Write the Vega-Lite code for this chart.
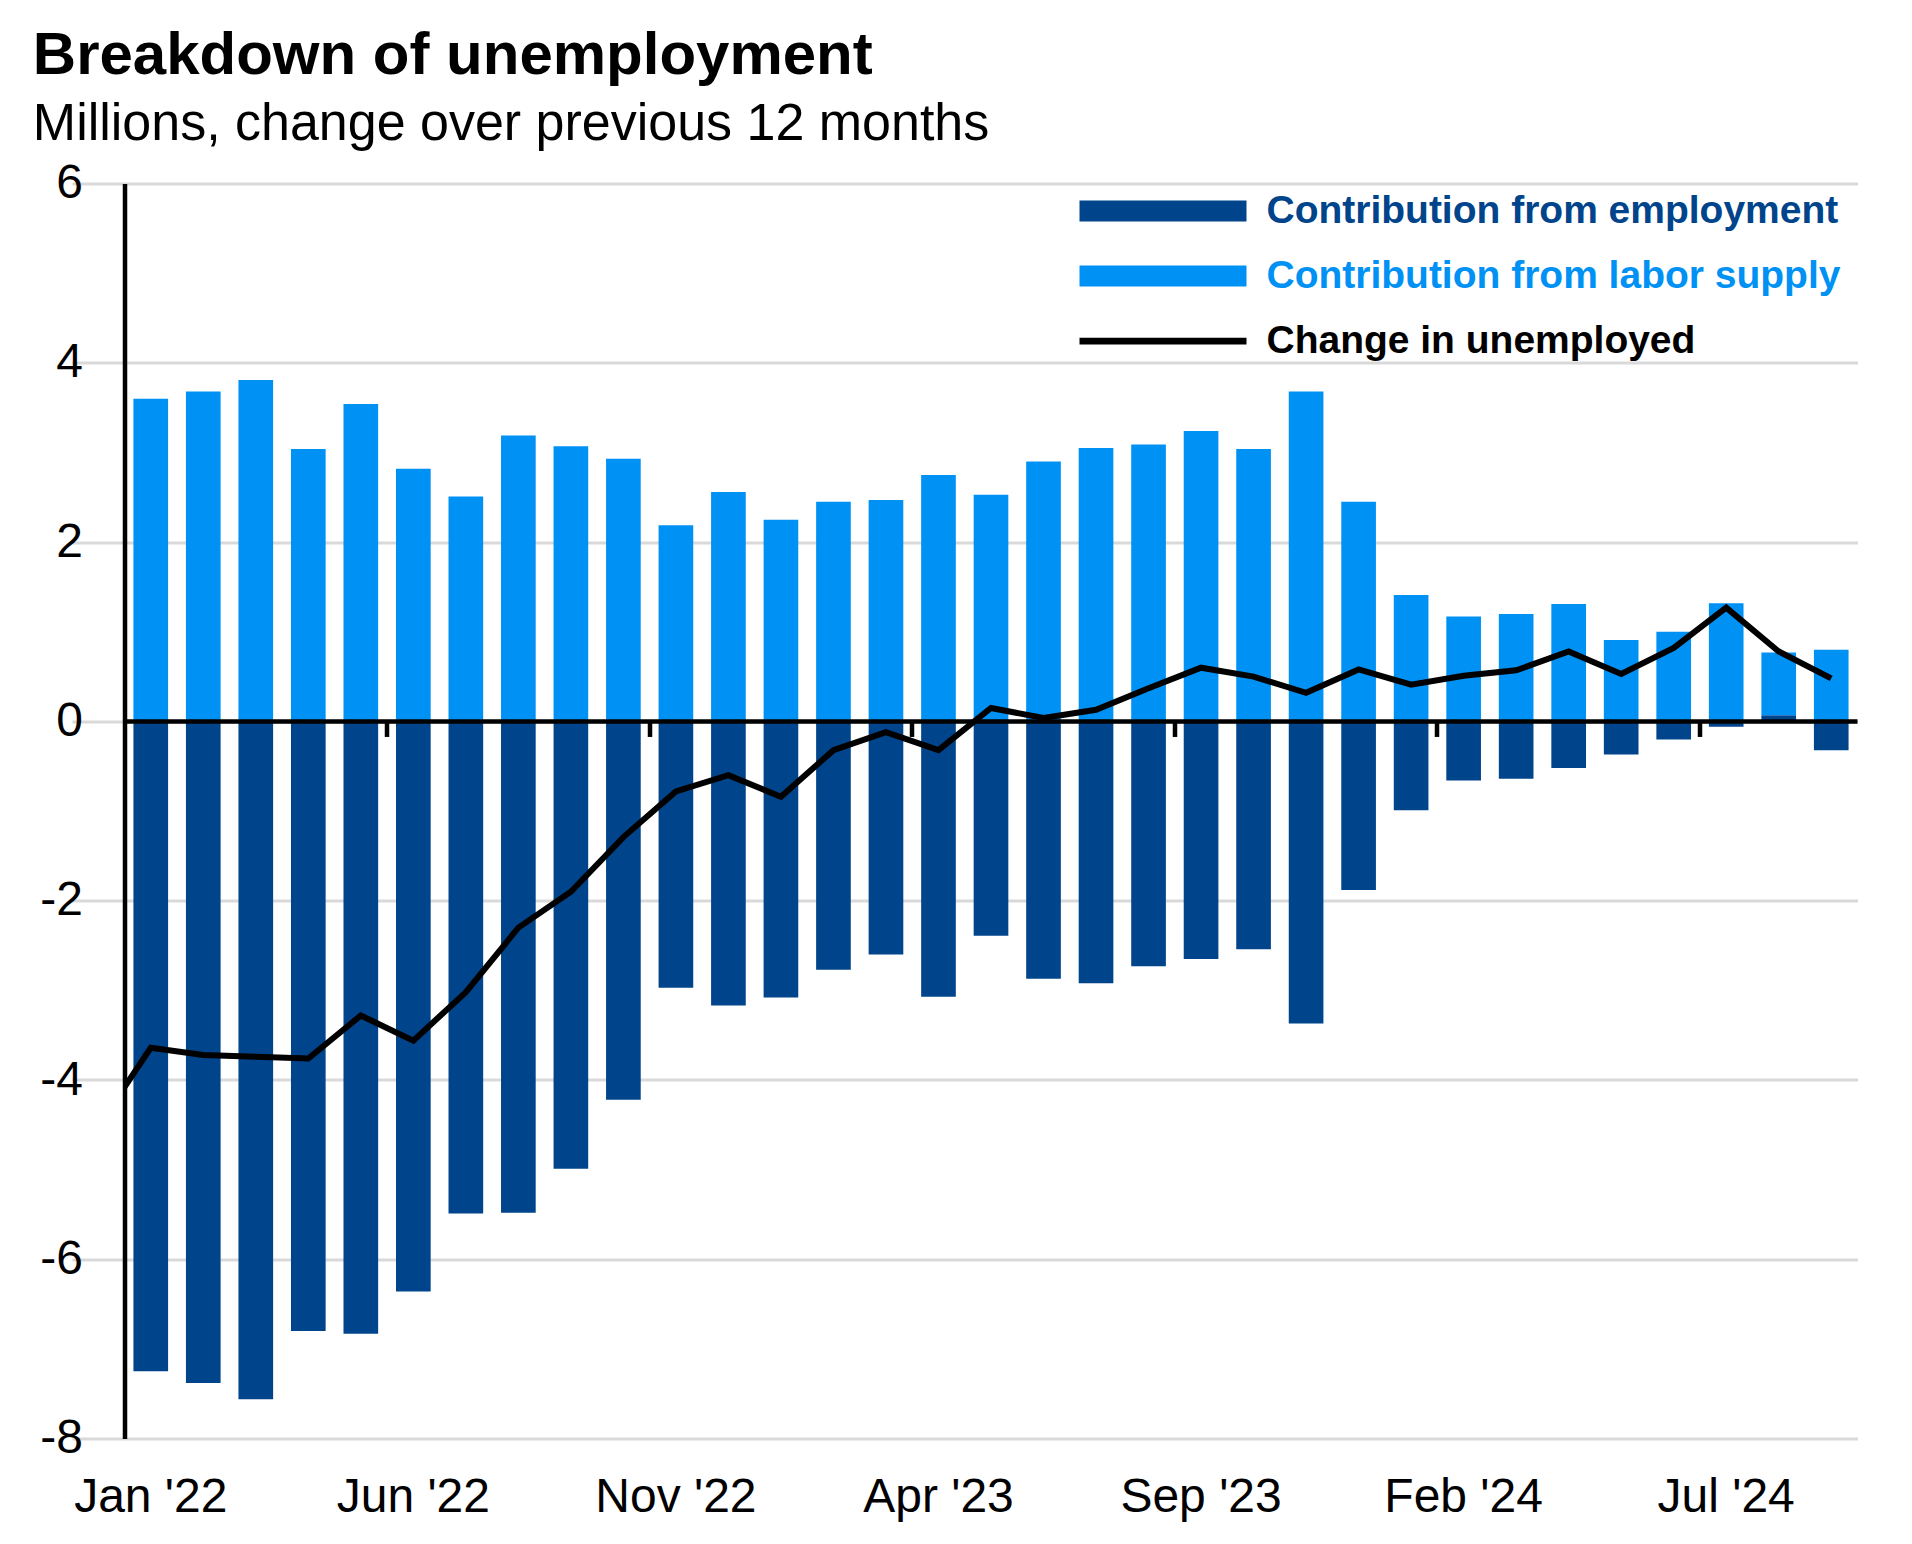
{
  "$schema": "https://vega.github.io/schema/vega-lite/v6.json",
  "width": 1733,
  "height": 1255,
  "padding": {"left": 32.5, "top": 25.6, "right": 20, "bottom": 10},
  "background": "white",
  "config": {"view": {"stroke": null}, "font": "Liberation Sans"},
  "title": {
    "text": "Breakdown of unemployment",
    "subtitle": "Millions, change over previous 12 months",
    "anchor": "start",
    "frame": "bounds",
    "dx": -7,
    "font": "Liberation Sans",
    "fontSize": 60,
    "fontWeight": "bold",
    "color": "#000000",
    "subtitleFont": "Liberation Sans",
    "subtitleFontSize": 52,
    "subtitleColor": "#000000",
    "subtitlePadding": 12,
    "offset": 8.6
  },
  "data": {
    "values": [
      {"month": "Jan '22", "series": "Contribution from employment", "value": -7.25},
      {"month": "Feb '22", "series": "Contribution from employment", "value": -7.38},
      {"month": "Mar '22", "series": "Contribution from employment", "value": -7.56},
      {"month": "Apr '22", "series": "Contribution from employment", "value": -6.80},
      {"month": "May '22", "series": "Contribution from employment", "value": -6.83},
      {"month": "Jun '22", "series": "Contribution from employment", "value": -6.36},
      {"month": "Jul '22", "series": "Contribution from employment", "value": -5.49},
      {"month": "Aug '22", "series": "Contribution from employment", "value": -5.48},
      {"month": "Sep '22", "series": "Contribution from employment", "value": -4.99},
      {"month": "Oct '22", "series": "Contribution from employment", "value": -4.22},
      {"month": "Nov '22", "series": "Contribution from employment", "value": -2.97},
      {"month": "Dec '22", "series": "Contribution from employment", "value": -3.17},
      {"month": "Jan '23", "series": "Contribution from employment", "value": -3.08},
      {"month": "Feb '23", "series": "Contribution from employment", "value": -2.77},
      {"month": "Mar '23", "series": "Contribution from employment", "value": -2.60},
      {"month": "Apr '23", "series": "Contribution from employment", "value": -3.07},
      {"month": "May '23", "series": "Contribution from employment", "value": -2.39},
      {"month": "Jun '23", "series": "Contribution from employment", "value": -2.87},
      {"month": "Jul '23", "series": "Contribution from employment", "value": -2.92},
      {"month": "Aug '23", "series": "Contribution from employment", "value": -2.73},
      {"month": "Sep '23", "series": "Contribution from employment", "value": -2.65},
      {"month": "Oct '23", "series": "Contribution from employment", "value": -2.54},
      {"month": "Nov '23", "series": "Contribution from employment", "value": -3.37},
      {"month": "Dec '23", "series": "Contribution from employment", "value": -1.88},
      {"month": "Jan '24", "series": "Contribution from employment", "value": -0.99},
      {"month": "Feb '24", "series": "Contribution from employment", "value": -0.66},
      {"month": "Mar '24", "series": "Contribution from employment", "value": -0.64},
      {"month": "Apr '24", "series": "Contribution from employment", "value": -0.52},
      {"month": "May '24", "series": "Contribution from employment", "value": -0.37},
      {"month": "Jun '24", "series": "Contribution from employment", "value": -0.20},
      {"month": "Jul '24", "series": "Contribution from employment", "value": -0.06},
      {"month": "Aug '24", "series": "Contribution from employment", "value": 0.07},
      {"month": "Sep '24", "series": "Contribution from employment", "value": -0.32},
      {"month": "Jan '22", "series": "Contribution from labor supply", "value": 3.60},
      {"month": "Feb '22", "series": "Contribution from labor supply", "value": 3.68},
      {"month": "Mar '22", "series": "Contribution from labor supply", "value": 3.81},
      {"month": "Apr '22", "series": "Contribution from labor supply", "value": 3.04},
      {"month": "May '22", "series": "Contribution from labor supply", "value": 3.54},
      {"month": "Jun '22", "series": "Contribution from labor supply", "value": 2.82},
      {"month": "Jul '22", "series": "Contribution from labor supply", "value": 2.51},
      {"month": "Aug '22", "series": "Contribution from labor supply", "value": 3.19},
      {"month": "Sep '22", "series": "Contribution from labor supply", "value": 3.07},
      {"month": "Oct '22", "series": "Contribution from labor supply", "value": 2.93},
      {"month": "Nov '22", "series": "Contribution from labor supply", "value": 2.19},
      {"month": "Dec '22", "series": "Contribution from labor supply", "value": 2.56},
      {"month": "Jan '23", "series": "Contribution from labor supply", "value": 2.25},
      {"month": "Feb '23", "series": "Contribution from labor supply", "value": 2.45},
      {"month": "Mar '23", "series": "Contribution from labor supply", "value": 2.47},
      {"month": "Apr '23", "series": "Contribution from labor supply", "value": 2.75},
      {"month": "May '23", "series": "Contribution from labor supply", "value": 2.53},
      {"month": "Jun '23", "series": "Contribution from labor supply", "value": 2.90},
      {"month": "Jul '23", "series": "Contribution from labor supply", "value": 3.05},
      {"month": "Aug '23", "series": "Contribution from labor supply", "value": 3.09},
      {"month": "Sep '23", "series": "Contribution from labor supply", "value": 3.24},
      {"month": "Oct '23", "series": "Contribution from labor supply", "value": 3.04},
      {"month": "Nov '23", "series": "Contribution from labor supply", "value": 3.68},
      {"month": "Dec '23", "series": "Contribution from labor supply", "value": 2.45},
      {"month": "Jan '24", "series": "Contribution from labor supply", "value": 1.41},
      {"month": "Feb '24", "series": "Contribution from labor supply", "value": 1.17},
      {"month": "Mar '24", "series": "Contribution from labor supply", "value": 1.20},
      {"month": "Apr '24", "series": "Contribution from labor supply", "value": 1.31},
      {"month": "May '24", "series": "Contribution from labor supply", "value": 0.91},
      {"month": "Jun '24", "series": "Contribution from labor supply", "value": 1.00},
      {"month": "Jul '24", "series": "Contribution from labor supply", "value": 1.32},
      {"month": "Aug '24", "series": "Contribution from labor supply", "value": 0.70},
      {"month": "Sep '24", "series": "Contribution from labor supply", "value": 0.80},
      {"month": "Dec '21", "series": "Change in unemployed", "value": -4.52},
      {"month": "Jan '22", "series": "Change in unemployed", "value": -3.64},
      {"month": "Feb '22", "series": "Change in unemployed", "value": -3.72},
      {"month": "Mar '22", "series": "Change in unemployed", "value": -3.74},
      {"month": "Apr '22", "series": "Change in unemployed", "value": -3.76},
      {"month": "May '22", "series": "Change in unemployed", "value": -3.28},
      {"month": "Jun '22", "series": "Change in unemployed", "value": -3.56},
      {"month": "Jul '22", "series": "Change in unemployed", "value": -3.02},
      {"month": "Aug '22", "series": "Change in unemployed", "value": -2.30},
      {"month": "Sep '22", "series": "Change in unemployed", "value": -1.90},
      {"month": "Oct '22", "series": "Change in unemployed", "value": -1.29},
      {"month": "Nov '22", "series": "Change in unemployed", "value": -0.78},
      {"month": "Dec '22", "series": "Change in unemployed", "value": -0.60},
      {"month": "Jan '23", "series": "Change in unemployed", "value": -0.84},
      {"month": "Feb '23", "series": "Change in unemployed", "value": -0.32},
      {"month": "Mar '23", "series": "Change in unemployed", "value": -0.12},
      {"month": "Apr '23", "series": "Change in unemployed", "value": -0.32},
      {"month": "May '23", "series": "Change in unemployed", "value": 0.15},
      {"month": "Jun '23", "series": "Change in unemployed", "value": 0.04},
      {"month": "Jul '23", "series": "Change in unemployed", "value": 0.13},
      {"month": "Aug '23", "series": "Change in unemployed", "value": 0.37},
      {"month": "Sep '23", "series": "Change in unemployed", "value": 0.60},
      {"month": "Oct '23", "series": "Change in unemployed", "value": 0.50},
      {"month": "Nov '23", "series": "Change in unemployed", "value": 0.32},
      {"month": "Dec '23", "series": "Change in unemployed", "value": 0.58},
      {"month": "Jan '24", "series": "Change in unemployed", "value": 0.41},
      {"month": "Feb '24", "series": "Change in unemployed", "value": 0.51},
      {"month": "Mar '24", "series": "Change in unemployed", "value": 0.57},
      {"month": "Apr '24", "series": "Change in unemployed", "value": 0.78},
      {"month": "May '24", "series": "Change in unemployed", "value": 0.53},
      {"month": "Jun '24", "series": "Change in unemployed", "value": 0.82},
      {"month": "Jul '24", "series": "Change in unemployed", "value": 1.27},
      {"month": "Aug '24", "series": "Change in unemployed", "value": 0.78},
      {"month": "Sep '24", "series": "Change in unemployed", "value": 0.48}
    ]
  },
  "layer": [
    {
      "transform": [{"filter": "datum.series !== 'Change in unemployed'"}],
      "mark": {"type": "bar", "width": {"band": 0.66}},
      "encoding": {
        "x": {
          "field": "month",
          "type": "ordinal",
          "scale": {
            "domain": ["Dec '21","Jan '22","Feb '22","Mar '22","Apr '22","May '22","Jun '22","Jul '22","Aug '22","Sep '22","Oct '22","Nov '22","Dec '22","Jan '23","Feb '23","Mar '23","Apr '23","May '23","Jun '23","Jul '23","Aug '23","Sep '23","Oct '23","Nov '23","Dec '23","Jan '24","Feb '24","Mar '24","Apr '24","May '24","Jun '24","Jul '24","Aug '24","Sep '24"],
            "range": [-52.52, 1733],
            "paddingInner": 0,
            "paddingOuter": 0
          },
          "axis": {
            "orient": "bottom",
            "values": ["Jan '22","Jun '22","Nov '22","Apr '23","Sep '23","Feb '24","Jul '24"],
            "title": null,
            "ticks": false,
            "tickSize": 0,
            "domain": false,
            "grid": false,
            "labelAngle": 0,
            "labelPadding": 35,
            "labelFont": "Liberation Sans",
            "labelFontSize": 48,
            "labelColor": "#000000",
            "labelOverlap": false
          }
        },
        "y": {
          "field": "value",
          "type": "quantitative",
          "stack": "zero",
          "scale": {"domain": [-8, 6], "nice": false, "zero": false},
          "axis": {
            "values": [-8, -6, -4, -2, 0, 2, 4, 6],
            "title": null,
            "grid": true,
            "gridColor": "#d9d9d9",
            "gridWidth": 3,
            "domain": true,
            "domainColor": "#000000",
            "domainWidth": 4.5,
            "domainCap": "butt",
            "ticks": false,
            "tickSize": 0,
            "labelPadding": 42,
            "labelFont": "Liberation Sans",
            "labelFontSize": 48,
            "labelColor": "#000000",
            "labelExpr": "datum.value < 0 ? '-' + abs(datum.value) : '' + datum.value"
          }
        },
        "color": {
          "field": "series",
          "type": "nominal",
          "scale": {
            "domain": ["Contribution from employment", "Contribution from labor supply", "Change in unemployed"],
            "range": ["#00448B", "#0091F5", "#000000"]
          },
          "legend": {
            "orient": "none",
            "legendX": 1019,
            "legendY": 8,
            "title": null,
            "padding": 0,
            "symbolSize": 400,
            "labelOffset": 84,
            "rowPadding": 25,
            "labelFont": "Liberation Sans",
            "labelFontSize": 39,
            "labelFontWeight": "bold",
            "labelLimit": 1000,
            "encode": {
              "symbols": {
                "update": {
                  "shape": {"signal": "datum.value === 'Change in unemployed' ? 'M-8.35,-0.33H8.35V0.33H-8.35Z' : 'M-8.35,-1.05H8.35V1.05H-8.35Z'"},
                  "fill": {"scale": "color", "field": "value"},
                  "stroke": {"value": "transparent"},
                  "strokeWidth": {"value": 0},
                  "opacity": {"value": 1},
                  "fillOpacity": {"value": 1}
                }
              },
              "labels": {
                "update": {
                  "fill": {"scale": "color", "field": "value"}
                }
              }
            }
          }
        },
        "order": {"field": "series", "sort": "ascending"}
      }
    },
    {
      "data": {"values": [{}]},
      "mark": {"type": "rule", "color": "#000000", "strokeWidth": 4.5},
      "encoding": {"y": {"datum": 0}}
    },
    {
      "transform": [{"filter": "datum.series === 'Change in unemployed'"}],
      "mark": {"type": "line", "color": "#000000", "strokeWidth": 6, "clip": true},
      "encoding": {
        "x": {
          "field": "month",
          "type": "ordinal",
          "scale": {
            "domain": ["Dec '21","Jan '22","Feb '22","Mar '22","Apr '22","May '22","Jun '22","Jul '22","Aug '22","Sep '22","Oct '22","Nov '22","Dec '22","Jan '23","Feb '23","Mar '23","Apr '23","May '23","Jun '23","Jul '23","Aug '23","Sep '23","Oct '23","Nov '23","Dec '23","Jan '24","Feb '24","Mar '24","Apr '24","May '24","Jun '24","Jul '24","Aug '24","Sep '24"],
            "range": [-52.52, 1733],
            "paddingInner": 0,
            "paddingOuter": 0
          },
          "axis": {
            "orient": "bottom",
            "offset": -717.14,
            "values": ["Jun '22","Nov '22","Apr '23","Sep '23","Feb '24","Jul '24"],
            "bandPosition": 0,
            "title": null,
            "labels": false,
            "ticks": true,
            "tickSize": 15,
            "tickWidth": 4.5,
            "tickColor": "#000000",
            "domain": false,
            "grid": false
          }
        },
        "y": {"field": "value", "type": "quantitative"},
        "color": {"field": "series", "type": "nominal"}
      }
    }
  ],
  "resolve": {"axis": {"x": "independent"}}
}
